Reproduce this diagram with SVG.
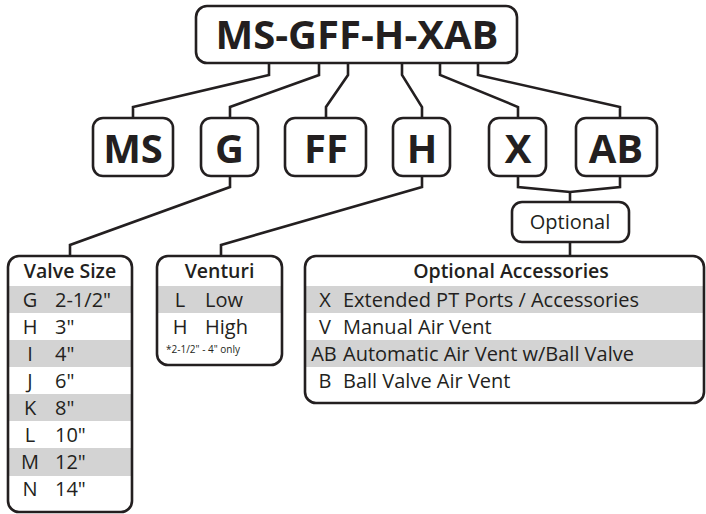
<svg xmlns="http://www.w3.org/2000/svg" width="706" height="514" viewBox="0 0 706 514">
<style>
.box{fill:#fff;stroke:#231f20;stroke-width:2.6}
.frame{fill:none;stroke:#231f20;stroke-width:2.6}
.conn{fill:none;stroke:#231f20;stroke-width:2.6;stroke-linejoin:miter}
.big{font-family:"Open Sans","Noto Sans",sans-serif;font-weight:700;font-size:40px;fill:#231f20;text-anchor:middle}
.hdr{font-family:"Open Sans","Noto Sans",sans-serif;font-weight:600;font-size:19.5px;fill:#231f20;text-anchor:middle}
.opt{font-family:"Open Sans","Noto Sans",sans-serif;font-weight:400;font-size:20px;fill:#231f20;text-anchor:middle}
.row{font-family:"Open Sans","Noto Sans",sans-serif;font-weight:400;font-size:20px;fill:#231f20}
.mid{text-anchor:middle}
.note{font-family:"Open Sans","Noto Sans",sans-serif;font-size:10px;fill:#231f20}
.gray{fill:#d3d3d3}
</style>
<rect width="706" height="514" fill="#fff"/>
<g id="connectors">
<path class="conn" d="M269,63 V75 L133,107 V118"/>
<path class="conn" d="M319,63 V75 L230,107 V118"/>
<path class="conn" d="M348,63 V75 L326,107 V118"/>
<path class="conn" d="M402,63 V75 L422,107 V118"/>
<path class="conn" d="M440,63 V75 L518,107 V118"/>
<path class="conn" d="M478,63 V75 L620,107 V118"/>
<path class="conn" d="M230,176 V187 L70,245 V256"/>
<path class="conn" d="M422,176 V187 L221,245 V256"/>
<path class="conn" d="M518,176 V187 L570,192 L620,187 V176"/>
<path class="conn" d="M570,192 V202"/>
<path class="conn" d="M570,242 V256"/>
</g>
<g id="model">
<rect class="box" x="196" y="6" width="321" height="57" rx="11"/>
<text class="big" x="357" y="49">MS-GFF-H-XAB</text>
</g>
<g id="node-ms">
<rect class="box" x="93" y="118" width="80" height="58" rx="10"/>
<text class="big" x="133" y="163">MS</text>
</g>
<g id="node-g">
<rect class="box" x="201" y="118" width="57" height="58" rx="10"/>
<text class="big" x="229.5" y="163">G</text>
</g>
<g id="node-ff">
<rect class="box" x="285" y="118" width="81" height="58" rx="10"/>
<text class="big" x="326" y="163">FF</text>
</g>
<g id="node-h">
<rect class="box" x="393" y="118" width="57" height="58" rx="10"/>
<text class="big" x="422" y="163">H</text>
</g>
<g id="node-x">
<rect class="box" x="489" y="118" width="57" height="58" rx="10"/>
<text class="big" x="518" y="163">X</text>
</g>
<g id="node-ab">
<rect class="box" x="576" y="118" width="81" height="58" rx="10"/>
<text class="big" x="616" y="163">AB</text>
</g>
<g id="node-optional">
<rect class="box" x="512" y="202" width="117" height="40" rx="10"/>
<text class="opt" x="570" y="229">Optional</text>
</g>
<g id="valve-size">
<rect x="8" y="256" width="124" height="256" rx="11" fill="#fff"/>
<rect class="gray" x="9" y="286" width="122" height="27"/>
<rect class="gray" x="9" y="340" width="122" height="27"/>
<rect class="gray" x="9" y="394" width="122" height="27"/>
<rect class="gray" x="9" y="448" width="122" height="28"/>
<rect class="frame" x="8" y="256" width="124" height="256" rx="11"/>
<text class="hdr" x="70" y="278">Valve Size</text>
<text class="row mid" x="30" y="307">G</text><text class="row" x="55" y="307">2-1/2"</text>
<text class="row mid" x="30" y="334">H</text><text class="row" x="55" y="334">3"</text>
<text class="row mid" x="30" y="361">I</text><text class="row" x="55" y="361">4"</text>
<text class="row mid" x="30" y="388">J</text><text class="row" x="55" y="388">6"</text>
<text class="row mid" x="30" y="415">K</text><text class="row" x="55" y="415">8"</text>
<text class="row mid" x="30" y="442">L</text><text class="row" x="55" y="442">10"</text>
<text class="row mid" x="30" y="469">M</text><text class="row" x="55" y="469">12"</text>
<text class="row mid" x="30" y="496">N</text><text class="row" x="55" y="496">14"</text>
</g>
<g id="venturi">
<rect x="157" y="256" width="125" height="109" rx="11" fill="#fff"/>
<rect class="gray" x="158" y="286" width="123" height="27"/>
<rect class="frame" x="157" y="256" width="125" height="109" rx="11"/>
<text class="hdr" x="219.5" y="278">Venturi</text>
<text class="row mid" x="180" y="307">L</text><text class="row" x="205" y="307">Low</text>
<text class="row mid" x="180" y="334">H</text><text class="row" x="205" y="334">High</text>
<text class="note" x="166" y="353">*2-1/2" - 4" only</text>
</g>
<g id="optional-accessories">
<rect x="305" y="256" width="399" height="147" rx="11" fill="#fff"/>
<rect class="gray" x="306" y="286" width="397" height="27"/>
<rect class="gray" x="306" y="340" width="397" height="27"/>
<rect class="frame" x="305" y="256" width="399" height="147" rx="11"/>
<text class="hdr" x="511" y="278">Optional Accessories</text>
<text class="row mid" x="325" y="307">X</text><text class="row" x="343" y="307">Extended PT Ports / Accessories</text>
<text class="row mid" x="325" y="334">V</text><text class="row" x="343" y="334">Manual Air Vent</text>
<text class="row mid" x="324" y="361">AB</text><text class="row" x="343" y="361">Automatic Air Vent w/Ball Valve</text>
<text class="row mid" x="325" y="388">B</text><text class="row" x="343" y="388">Ball Valve Air Vent</text>
</g>
</svg>
